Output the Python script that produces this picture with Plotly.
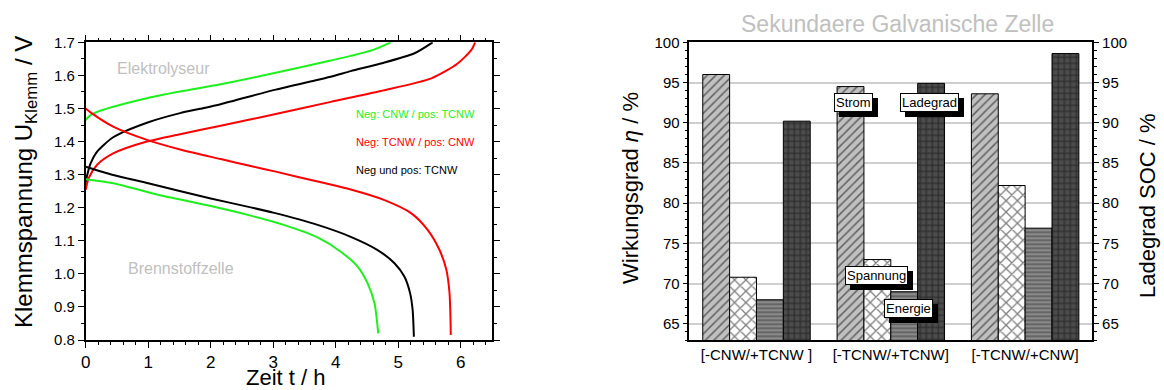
import plotly.graph_objects as go

FONT = "Liberation Sans, Arial, sans-serif"

# ---------- Lade-/Entladekurven (Zeit in h, Klemmspannung in V) ----------
t_green_ch = [0, 0.05, 0.15, 0.44, 0.98, 1.51, 2.16, 3.04, 3.92, 4.24, 4.6, 4.88]
u_green_ch = [1.465, 1.476, 1.487, 1.505, 1.531, 1.551, 1.573, 1.608, 1.645, 1.659, 1.677, 1.70]

t_black_ch = [0, 0.02, 0.08, 0.18, 0.44, 0.98, 1.51, 1.83, 2.16, 3.04, 3.92, 4.24, 4.72, 5.26, 5.55]
u_black_ch = [1.275, 1.295, 1.335, 1.369, 1.413, 1.457, 1.486, 1.499, 1.513, 1.557, 1.596, 1.613, 1.636, 1.667, 1.70]

t_red_ch = [0, 0.05, 0.18, 0.44, 0.98, 1.51, 2.16, 3.04, 3.92, 4.72, 5.53, 5.95, 6.17, 6.23]
u_red_ch = [1.254, 1.29, 1.329, 1.364, 1.40, 1.422, 1.448, 1.483, 1.52, 1.553, 1.591, 1.636, 1.677, 1.70]

t_red_dis = [0, 0.1, 0.44, 0.98, 1.51, 2.16, 2.64, 3.04, 3.71, 4.24, 4.78, 5.21, 5.47, 5.66, 5.77, 5.82, 5.835, 5.84]
u_red_dis = [1.50, 1.485, 1.445, 1.405, 1.376, 1.347, 1.326, 1.309, 1.279, 1.255, 1.223, 1.183, 1.133, 1.072, 1.012, 0.942, 0.87, 0.815]

t_black_dis = [0, 0.44, 1.0, 2.0, 2.64, 3.0, 3.71, 4.24, 4.67, 4.94, 5.10, 5.19, 5.23, 5.25]
u_black_dis = [1.324, 1.299, 1.274, 1.228, 1.201, 1.185, 1.148, 1.112, 1.072, 1.032, 0.991, 0.941, 0.891, 0.81]

t_green_dis = [0, 0.44, 1.14, 2.0, 2.64, 3.17, 3.71, 4.08, 4.35, 4.51, 4.62, 4.68]
u_green_dis = [1.286, 1.274, 1.24, 1.205, 1.176, 1.148, 1.11, 1.067, 1.022, 0.971, 0.911, 0.82]

# ---------- Wirkungsgrade und Ladegrad (%) ----------
configs = ["[-CNW/+TCNW ]", "[-TCNW/+TCNW]", "[-TCNW/+CNW]"]
eta_strom = [96.0, 94.5, 93.6]
eta_spannung = [70.8, 73.0, 82.2]
eta_energie = [68.0, 69.0, 76.9]
soc_ladegrad = [90.2, 94.9, 98.6]

GREEN = "#1ef01e"
RED = "#ff0000"
BLACK = "#000000"

fig = go.Figure()

curves = [
    (t_green_ch, u_green_ch, GREEN),
    (t_black_ch, u_black_ch, BLACK),
    (t_red_ch, u_red_ch, RED),
    (t_red_dis, u_red_dis, RED),
    (t_black_dis, u_black_dis, BLACK),
    (t_green_dis, u_green_dis, GREEN),
]
for t, u, c in curves:
    fig.add_trace(go.Scatter(
        x=t, y=u, mode="lines", xaxis="x", yaxis="y",
        line=dict(color=c, width=2, shape="spline", smoothing=0.7),
        showlegend=False, hoverinfo="skip",
    ))

# Balken: Strom, Spannung, Energie (linke Achse), Ladegrad (rechte Achse)
bar_specs = [
    ("Strom", eta_strom, "y2", -0.4, dict(shape="/", bgcolor="#c0c0c0", fgcolor="#000000", size=6, solidity=0.25)),
    ("Spannung", eta_spannung, "y2", -0.2, dict(shape="x", bgcolor="#ffffff", fgcolor="#000000", size=8, solidity=0.3)),
    ("Energie", eta_energie, "y2", 0.0, dict(shape="-", bgcolor="#8a8a8a", fgcolor="#3a3a3a", size=4, solidity=0.45)),
    ("Ladegrad", soc_ladegrad, "y3", 0.2, dict(shape="+", bgcolor="#4c4c4c", fgcolor="#000000", size=6, solidity=0.3)),
]
for name, vals, yax, off, pat in bar_specs:
    fig.add_trace(go.Bar(
        x=configs, y=vals, name=name, xaxis="x2", yaxis=yax,
        width=0.2, offset=off,
        marker=dict(color=pat["bgcolor"], line=dict(color="black", width=1), pattern=pat),
        showlegend=False, hoverinfo="skip",
    ))

y_dom = [0.1282, 0.8915]
axis_common = dict(showline=True, linecolor="black", linewidth=1.5,
                   ticks="outside", tickcolor="black", zeroline=False,
                   showgrid=False, automargin=False)

fig.update_layout(
    width=1164, height=390,
    margin=dict(l=0, r=0, t=0, b=0, autoexpand=False),
    paper_bgcolor="white", plot_bgcolor="white",
    font=dict(family=FONT, color="black"),
    barmode="group",
    showlegend=False,
    xaxis=dict(domain=[0.0736, 0.4227], range=[0, 6.5], dtick=1, anchor="y",
               ticklen=6, mirror="allticks", tickfont=dict(size=17),
               minor=dict(dtick=0.2, ticks="outside", ticklen=3, tickcolor="black"),
               **axis_common),
    yaxis=dict(domain=y_dom, range=[0.8, 1.7], dtick=0.1, tickformat=".1f", anchor="x",
               ticklen=6, mirror="allticks", tickfont=dict(size=15),
               minor=dict(dtick=0.05, ticks="outside", ticklen=3, tickcolor="black"),
               **axis_common),
    xaxis2=dict(domain=[0.5922, 0.9384], type="category", range=[-0.5, 2.5], anchor="y2",
                showline=True, linecolor="black", linewidth=1.5, mirror=True,
                ticks="", tickfont=dict(size=15), zeroline=False, showgrid=False,
                automargin=False),
    yaxis2=dict(domain=y_dom, range=[63, 100], tick0=65, dtick=5, anchor="x2",
                showline=True, linecolor="black", linewidth=1.5, ticks="outside",
                ticklen=5, tickcolor="black", tickfont=dict(size=15), zeroline=False,
                showgrid=True, gridcolor="#cfcfcf", gridwidth=1.5, automargin=False,
                minor=dict(dtick=1, ticks="outside", ticklen=3, tickcolor="black", showgrid=False)),
    yaxis3=dict(domain=y_dom, range=[63, 100], tick0=65, dtick=5, anchor="x2",
                overlaying="y2", side="right",
                showline=True, linecolor="black", linewidth=1.5, ticks="outside",
                ticklen=5, tickcolor="black", tickfont=dict(size=15), zeroline=False,
                showgrid=False, automargin=False,
                minor=dict(dtick=1, ticks="outside", ticklen=3, tickcolor="black")),
)

ann = []
# Achsentitel
ann.append(dict(text="Klemmspannung U<sub>Klemm</sub> / V", xref="paper", yref="paper",
                x=25 / 1164, y=1 - 182 / 390, xanchor="center", yanchor="middle",
                textangle=-90, showarrow=False, font=dict(size=24, color="black")))
ann.append(dict(text="Zeit t / h", xref="paper", yref="paper",
                x=0.2455, y=1 - 377 / 390, xanchor="center", yanchor="middle",
                showarrow=False, font=dict(size=22, color="black")))
ann.append(dict(text="Wirkungsgrad <i>η</i> / %", xref="paper", yref="paper",
                x=630 / 1164, y=1 - 188 / 390, xanchor="center", yanchor="middle",
                textangle=-90, showarrow=False, font=dict(size=22, color="black")))
ann.append(dict(text="Ladegrad SOC / %", xref="paper", yref="paper",
                x=1147 / 1164, y=1 - 206 / 390, xanchor="center", yanchor="middle",
                textangle=-90, showarrow=False, font=dict(size=22, color="black")))
ann.append(dict(text="Sekundaere Galvanische Zelle", xref="paper", yref="paper",
                x=897 / 1164, y=1 - 24 / 390, xanchor="center", yanchor="middle",
                showarrow=False, font=dict(size=23, color="#c0c0c0")))

# Beschriftungen im Spannungsdiagramm
ann.append(dict(text="Elektrolyseur", xref="x", yref="y", x=1.25, y=1.621,
                showarrow=False, font=dict(size=16, color="#c0c0c0")))
ann.append(dict(text="Brennstoffzelle", xref="x", yref="y", x=1.52, y=1.017,
                showarrow=False, font=dict(size=16, color="#c0c0c0")))
for txt, yv, col in [("Neg: CNW / pos: TCNW", 1.482, GREEN),
                     ("Neg: TCNW / pos: CNW", 1.398, RED),
                     ("Neg und pos: TCNW", 1.314, BLACK)]:
    ann.append(dict(text=txt, xref="x", yref="y", x=4.296, y=yv, xanchor="left",
                    showarrow=False, font=dict(size=11, color=col)))

# Kästchen mit Schatten im Balkendiagramm
for txt, xv, yv in [("Strom", 0.723, 92.58), ("Ladegrad", 1.285, 92.58),
                    ("Spannung", 0.890, 71.06), ("Energie", 1.128, 66.9)]:
    ann.append(dict(text=txt, xref="x2", yref="y2", x=xv, y=yv, showarrow=False,
                    xshift=5, yshift=-5, bgcolor="black", bordercolor="black",
                    borderwidth=1, borderpad=1, font=dict(size=13, color="black")))
    ann.append(dict(text=txt, xref="x2", yref="y2", x=xv, y=yv, showarrow=False,
                    bgcolor="white", bordercolor="black", borderwidth=1, borderpad=1,
                    font=dict(size=13, color="black")))

fig.update_layout(annotations=ann)
fig.write_html("out.html")
